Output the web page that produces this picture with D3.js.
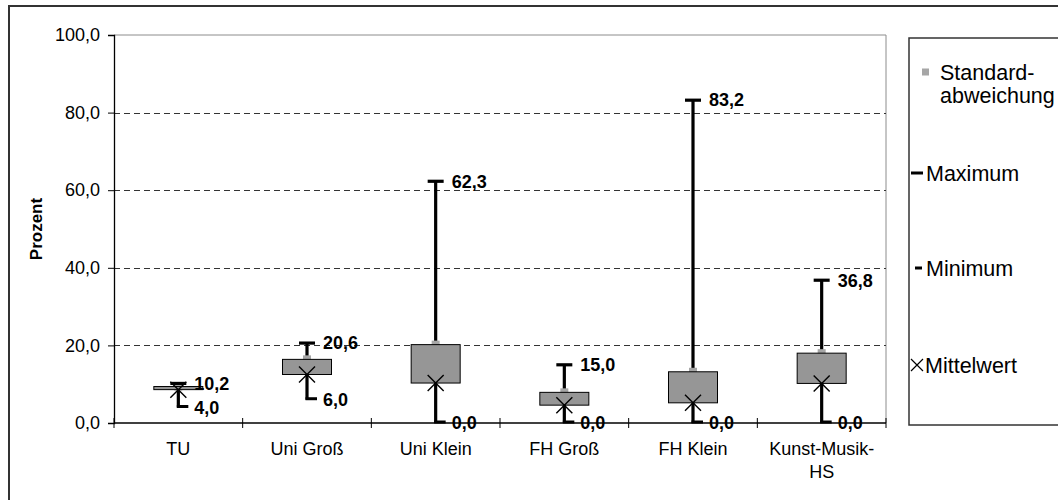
<!DOCTYPE html>
<html>
<head>
<meta charset="utf-8">
<script src="https://cdn.jsdelivr.net/npm/d3@7"></script>
<style>
  html, body { margin: 0; padding: 0; background: #fff; }
  svg { display: block; font-family: "Liberation Sans", Arial, sans-serif; }
</style>
</head>
<body>
<svg id="chart" width="1058" height="500"></svg>
<script>
// ---- data ----
const categories = ["TU", "Uni Groß", "Uni Klein", "FH Groß", "FH Klein", "Kunst-Musik-HS"];
const categoryLines = [["TU"], ["Uni Groß"], ["Uni Klein"], ["FH Groß"], ["FH Klein"], ["Kunst-Musik-", "HS"]];
const stdValues  = [9.4, 16.4, 20.2, 7.9, 13.2, 18.0];   // Standardabweichung (box top)
const maxValues  = [10.2, 20.6, 62.3, 15.0, 83.2, 36.8]; // Maximum
const minValues  = [4.0, 6.0, 0.0, 0.0, 0.0, 0.0];      // Minimum
const meanValues = [8.6, 12.5, 10.3, 4.6, 5.2, 10.2];   // Mittelwert (box bottom)
const yTicks = [0, 20, 40, 60, 80, 100];
const legendItems = ["Standard-\nabweichung", "Maximum", "Minimum", "Mittelwert"];
const yTitle = "Prozent";

// ---- layout ----
const svg = d3.select("#chart");
const plot = { left: 114, right: 886, top: 35, bottom: 423 };
const de = d3.formatLocale({ decimal: ",", thousands: ".", grouping: [3], currency: ["", " €"] });
const fmt = de.format(".1f");

const x = d3.scaleBand().domain(categories).range([plot.left, plot.right]).padding(0);
const y = d3.scaleLinear().domain([0, 100]).range([plot.bottom, plot.top]);

const rows = categories.map((c, i) => ({
  cat: c, lines: categoryLines[i], sd: stdValues[i], max: maxValues[i], min: minValues[i], mean: meanValues[i]
}));

// outer chart border
svg.append("rect").attr("x", 9).attr("y", 6).attr("width", 1070).attr("height", 520)
  .attr("fill", "none").attr("stroke", "#333").attr("stroke-width", 2);

// plot area frame (top and right in gray)
svg.append("line").attr("x1", plot.left).attr("x2", plot.right).attr("y1", y(100)).attr("y2", y(100))
  .attr("stroke", "#8c8c8c").attr("stroke-width", 1);
svg.append("line").attr("x1", plot.right).attr("x2", plot.right).attr("y1", plot.top).attr("y2", plot.bottom)
  .attr("stroke", "#8c8c8c").attr("stroke-width", 1);

// gridlines
svg.append("g").selectAll("line").data(yTicks.filter(t => t > 0 && t < 100)).join("line")
  .attr("x1", plot.left).attr("x2", plot.right)
  .attr("y1", d => Math.round(y(d)) + 0.5).attr("y2", d => Math.round(y(d)) + 0.5)
  .attr("stroke", "#333").attr("stroke-width", 1).attr("stroke-dasharray", "6,4");

// y axis
const yAxis = svg.append("g").attr("transform", `translate(${plot.left},0)`)
  .call(d3.axisLeft(y).tickValues(yTicks).tickFormat(fmt).tickSize(6).tickPadding(8));
yAxis.select(".domain").attr("stroke", "#000").attr("stroke-width", 1.3);
yAxis.selectAll(".tick line").attr("stroke", "#000");
yAxis.selectAll(".tick text").attr("font-size", 18).attr("fill", "#000")
  .attr("font-family", "Liberation Sans, Arial, sans-serif");

// y title
svg.append("text").attr("transform", `translate(42,${(plot.top + plot.bottom) / 2}) rotate(-90)`)
  .attr("text-anchor", "middle").attr("font-size", 17).attr("font-weight", "bold").text(yTitle);

// x axis line + boundary ticks
svg.append("line").attr("x1", plot.left).attr("x2", plot.right).attr("y1", y(0)).attr("y2", y(0))
  .attr("stroke", "#000").attr("stroke-width", 1.3);
const bounds = categories.map(c => x(c)).concat([x(categories[categories.length - 1]) + x.bandwidth()]);
svg.append("g").selectAll("line").data(bounds).join("line")
  .attr("x1", d => d).attr("x2", d => d).attr("y1", y(0) - 5).attr("y2", y(0) + 5)
  .attr("stroke", "#000").attr("stroke-width", 1);

// x labels
const xl = svg.append("g").selectAll("text").data(rows).join("text")
  .attr("x", d => x(d.cat) + x.bandwidth() / 2).attr("y", 455)
  .attr("text-anchor", "middle").attr("font-size", 18).attr("fill", "#000");
xl.selectAll("tspan").data(d => d.lines.map(l => ({ l, cx: x(d.cat) + x.bandwidth() / 2 }))).join("tspan")
  .attr("x", d => d.cx).attr("dy", (d, i) => i === 0 ? 0 : 23).text(d => d.l);

const cx = d => x(d.cat) + x.bandwidth() / 2;
const boxW = 49;

// high-low lines
svg.append("g").selectAll("line").data(rows).join("line")
  .attr("x1", cx).attr("x2", cx).attr("y1", d => y(d.max)).attr("y2", d => y(d.min))
  .attr("stroke", "#000").attr("stroke-width", 3.2);

// SD markers (gray squares)
svg.append("g").selectAll("rect").data(rows).join("rect")
  .attr("x", d => cx(d) - 4).attr("y", d => y(d.sd) - 4).attr("width", 8).attr("height", 8)
  .attr("fill", "#a6a6a6");

// boxes (between SD and mean)
svg.append("g").selectAll("rect").data(rows).join("rect")
  .attr("x", d => cx(d) - boxW / 2)
  .attr("y", d => y(Math.max(d.sd, d.mean)))
  .attr("width", boxW)
  .attr("height", d => Math.abs(y(d.sd) - y(d.mean)))
  .attr("fill", "#969696").attr("stroke", "#000").attr("stroke-width", 1);

// max markers (T)
svg.append("g").selectAll("line").data(rows).join("line")
  .attr("x1", d => cx(d) - 8).attr("x2", d => cx(d) + 8)
  .attr("y1", d => y(d.max)).attr("y2", d => y(d.max))
  .attr("stroke", "#000").attr("stroke-width", 3.2);

// min markers (short dash to the right)
svg.append("g").selectAll("line").data(rows).join("line")
  .attr("x1", d => cx(d) - 1.5).attr("x2", d => cx(d) + 10)
  .attr("y1", d => y(d.min) - 1).attr("y2", d => y(d.min) - 1)
  .attr("stroke", "#000").attr("stroke-width", 3);

// mean markers (X)
const xs = 8;
svg.append("g").selectAll("path").data(rows).join("path")
  .attr("d", d => {
    const px = cx(d), py = y(d.mean);
    return `M${px - xs},${py - xs}L${px + xs},${py + xs}M${px - xs},${py + xs}L${px + xs},${py - xs}`;
  })
  .attr("stroke", "#000").attr("stroke-width", 1.4).attr("fill", "none");

// data labels: max and min
svg.append("g").selectAll("text").data(rows).join("text")
  .attr("x", d => cx(d) + 16).attr("y", d => y(d.max)).attr("dy", "0.35em")
  .attr("font-size", 18).attr("font-weight", "bold").text(d => fmt(d.max));
svg.append("g").selectAll("text").data(rows).join("text")
  .attr("x", d => cx(d) + 16).attr("y", d => y(d.min)).attr("dy", "0.35em")
  .attr("font-size", 18).attr("font-weight", "bold").text(d => fmt(d.min));

// legend
const lg = svg.append("g");
lg.append("rect").attr("x", 909).attr("y", 38).attr("width", 170).attr("height", 387)
  .attr("fill", "#fff").attr("stroke", "#333").attr("stroke-width", 1.5);
const legendY = [72.5, 173, 268, 365];
const lfs = 21.5;
// Standardabweichung
lg.append("rect").attr("x", 922).attr("y", legendY[0] - 4).attr("width", 7).attr("height", 7).attr("fill", "#a6a6a6");
const t0 = lg.append("text").attr("x", 940).attr("y", legendY[0]).attr("font-size", lfs);
legendItems[0].split("\n").forEach((s, i) => t0.append("tspan").attr("x", 940).attr("dy", i === 0 ? "0.35em" : 23).text(s));
// Maximum
lg.append("line").attr("x1", 911).attr("x2", 923).attr("y1", legendY[1]).attr("y2", legendY[1]).attr("stroke", "#000").attr("stroke-width", 3);
lg.append("text").attr("x", 926).attr("y", legendY[1]).attr("dy", "0.35em").attr("font-size", lfs).text(legendItems[1]);
// Minimum
lg.append("line").attr("x1", 915).attr("x2", 922).attr("y1", legendY[2]).attr("y2", legendY[2]).attr("stroke", "#000").attr("stroke-width", 3);
lg.append("text").attr("x", 926).attr("y", legendY[2]).attr("dy", "0.35em").attr("font-size", lfs).text(legendItems[2]);
// Mittelwert
lg.append("path").attr("d", `M911,${legendY[3] - 6}L923,${legendY[3] + 6}M911,${legendY[3] + 6}L923,${legendY[3] - 6}`)
  .attr("stroke", "#000").attr("stroke-width", 1.2).attr("fill", "none");
lg.append("text").attr("x", 925).attr("y", legendY[3]).attr("dy", "0.35em").attr("font-size", lfs).text(legendItems[3]);
</script>
</body>
</html>
